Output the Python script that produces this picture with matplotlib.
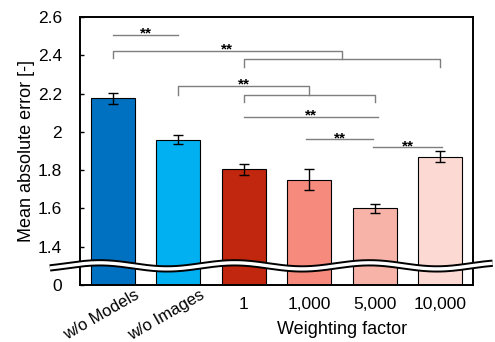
import numpy as np
import matplotlib.pyplot as plt

plt.rcParams['font.family'] = ['Liberation Sans', 'DejaVu Sans']

labels = ["w/o Models", "w/o Images", "1", "1,000", "5,000", "10,000"]
mae = [2.175, 1.96, 1.805, 1.75, 1.60, 1.87]
err = [0.03, 0.026, 0.028, 0.055, 0.025, 0.028]
colors = ["#0070C0", "#00B0F0", "#C1260E", "#F58A7D", "#F8B3A8", "#FCD9D3"]

yticks = [1.2, 1.4, 1.6, 1.8, 2.0, 2.2, 2.4, 2.6]
ytick_labels = ["0", "1.4", "1.6", "1.8", "2", "2.2", "2.4", "2.6"]

# simple significance lines: (x0, x1, y)
sig_lines = [(0.0, 1.0, 2.508), (2.0, 4.05, 2.079), (2.95, 3.98, 1.963), (3.98, 5.02, 1.921)]
# grouped brackets: (left x, mid x, group x0, group x1, top y, left tick end, low y, group tick end)
sig_brackets = [(0.0, 3.5, 2.0, 5.0, 2.423, 2.384, 2.379, 2.337),
                (1.0, 3.0, 2.0, 4.0, 2.242, 2.195, 2.195, 2.154)]

fig = plt.figure(figsize=(4.95, 3.42), dpi=100)
ax = fig.add_axes([80 / 495, 1 - 285 / 342, 393 / 495, 268 / 342])

x = np.arange(len(labels))
ax.bar(x, mae, width=0.67, color=colors, edgecolor='black', linewidth=0.8,
       bottom=0, zorder=2)
ax.errorbar(x, mae, yerr=err, fmt='none', ecolor='black', elinewidth=1.0,
            capsize=3.3, capthick=1.0, zorder=3)

ax.set_xlim(-0.5, 5.5)
ax.set_ylim(1.2, 2.6)
ax.set_yticks(yticks)
ax.set_yticklabels(ytick_labels, fontsize=12.5)
ax.tick_params(axis='y', direction='in', length=3, width=1, pad=13)
ax.set_xticks([])
for s in ax.spines.values():
    s.set_linewidth(1.4)
ax.set_ylabel("Mean absolute error [-]", fontsize=13, labelpad=2)

# x labels
trans = ax.get_xaxis_transform()
for i, lab in enumerate(labels):
    if i < 2:
        ax.text(i + 0.33, -0.01, lab, transform=trans, rotation=30,
                rotation_mode='anchor', ha='right', va='top', fontsize=12)
    else:
        ax.text(i, -0.045, lab, transform=trans, ha='center', va='top', fontsize=12.5)
ax.text(3.5, -0.135, "Weighting factor", transform=trans, ha='center', va='top', fontsize=13)

gray = '#7f7f7f'
star_kw = dict(ha='center', va='baseline', fontsize=11, fontweight='bold', zorder=5)
for x0, x1, y in sig_lines:
    ax.plot([x0, x1], [y, y], color=gray, lw=1.0, zorder=4)
    ax.text((x0 + x1) / 2, y - 0.016, "**", **star_kw)
for xl, xm, g0, g1, yt, ylt, yl, ygt in sig_brackets:
    ax.plot([xl, xl, xm, xm], [ylt, yt, yt, yl], color=gray, lw=1.0, zorder=4)
    ax.plot([g0, g0, g1, g1], [ygt, yl, yl, ygt], color=gray, lw=1.0, zorder=4)
    ax.text((xl + xm) / 2, yt - 0.016, "**", **star_kw)

# axis break wave
wx = np.linspace(-0.96, 5.8, 400)
wy = 1.3 + 0.016 * np.cos(2 * np.pi * (wx + 0.2) / 2.06)
ax.plot(wx, wy, color='black', lw=5.2, clip_on=False, zorder=6, solid_capstyle='butt')
ax.plot(wx, wy, color='white', lw=2.4, clip_on=False, zorder=7, solid_capstyle='butt')

fig.savefig("out.png", dpi=100)
